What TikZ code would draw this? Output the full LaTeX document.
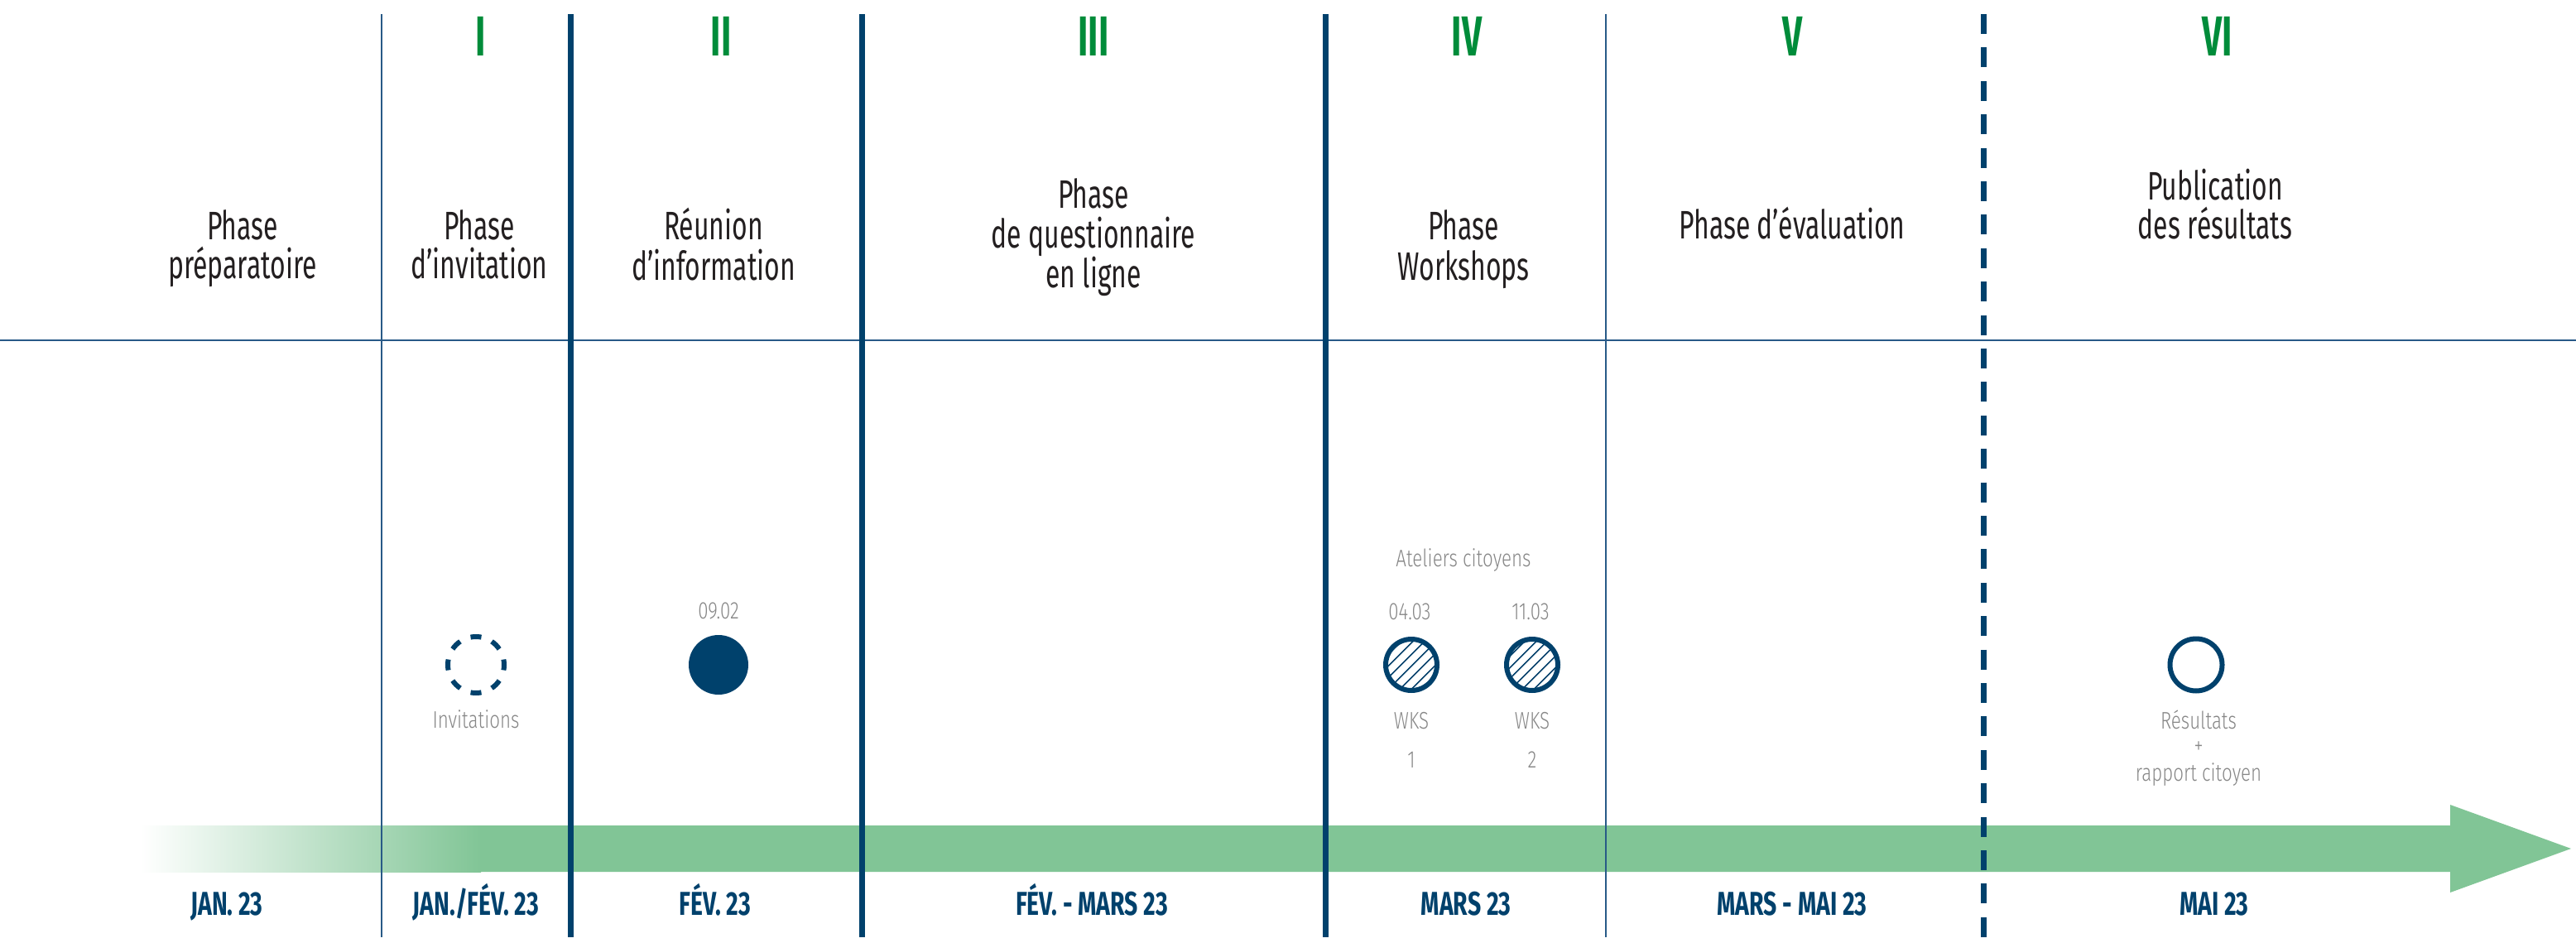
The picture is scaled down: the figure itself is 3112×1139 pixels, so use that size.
\documentclass[tikz,border=0pt]{standalone}
\usepackage{fontspec}
\setmainfont{Fira Sans}
\newfontfamily\headfont[FakeStretch=0.665]{Fira Sans}
\newfontfamily\romfont[FakeStretch=0.62]{Fira Sans}
\newfontfamily\datefont[FakeStretch=0.71]{Fira Sans}
\newfontfamily\lightfont[FakeStretch=0.77]{Fira Sans Light}
\usetikzlibrary{patterns.meta}
\definecolor{navy}{RGB}{0,65,108}
\definecolor{thinblue}{RGB}{40,90,135}
\definecolor{romgreen}{RGB}{0,140,58}
\definecolor{bargreen}{RGB}{129,197,150}
\definecolor{txt}{RGB}{35,31,32}
\definecolor{lab}{RGB}{135,135,135}
\tikzset{
  roman/.style={anchor=base, inner sep=0, text=romgreen, font=\romfont\bfseries\fontsize{68}{70}\selectfont},
  head/.style={anchor=base, inner sep=0, text=txt, font=\headfont\fontsize{48}{56}\selectfont},
  datelbl/.style={anchor=base, inner sep=0, text=navy, font=\datefont\bfseries\fontsize{40}{44}\selectfont},
  small/.style={anchor=base, inner sep=0, text=lab, font=\lightfont\fontsize{29}{32}\selectfont},
  thinline/.style={draw=thinblue, line width=2pt},
  thickline/.style={draw=navy, line width=7pt},
  dashline/.style={draw=navy, line width=7pt, dash pattern=on 24pt off 16.4pt},
  marker/.style={circle, inner sep=0, outer sep=0},
}
\begin{document}
\begin{tikzpicture}[x=1pt,y=-1pt]
\useasboundingbox (0,0) rectangle (3112,1139);
% timeline arrow
\fill[bargreen] (579,997) -- (2960,997) -- (2960,972) -- (3106,1025) -- (2960,1078) -- (2960,1053) -- (579,1053) -- cycle;
\shade[left color=white, right color=bargreen] (170,997) rectangle (581,1053);
% horizontal separator
\draw[thinblue, line width=2.5pt] (0,411) -- (3112,411);
% column separators
\coordinate (t1) at (461,17);  \coordinate (b1) at (461,1132);
\coordinate (t2) at (689,17);  \coordinate (b2) at (689,1132);
\coordinate (t3) at (1041,17); \coordinate (b3) at (1041,1132);
\coordinate (t4) at (1601,17); \coordinate (b4) at (1601,1132);
\coordinate (t5) at (1940,17); \coordinate (b5) at (1940,1132);
\coordinate (t6) at (2396,17); \coordinate (b6) at (2396,1132);
\draw[thinline] (t1) -- (b1);
\draw[thickline] (t2) -- (b2);
\draw[thickline] (t3) -- (b3);
\draw[thickline] (t4) -- (b4);
\draw[thinline] (t5) -- (b5);
\draw[dashline] (t6) -- (b6);
% roman numerals
\node[roman] (r1) at (581,68) {I};
\node[roman] (r2) at (871,68) {II};
\node[roman] (r3) at (1321,68) {III};
\node[roman] (r4) at (1772,68) {IV};
\node[roman] (r5) at (2165,68) {V};
\node[roman] (r6) at (2679,68) {VI};
% headers
\node[head] (h1a) at (293,290) {Phase};
\node[head] (h1b) at (293,337) {préparatoire};
\node[head] (h2a) at (579,290) {Phase};
\node[head] (h2b) at (579,337) {d’invitation};
\node[head] (h3a) at (862,290) {Réunion};
\node[head] (h3b) at (862,338) {d’information};
\node[head] (h4a) at (1321,252) {Phase};
\node[head] (h4b) at (1321,300) {de questionnaire};
\node[head] (h4c) at (1321,348) {en ligne};
\node[head] (h5a) at (1768,290) {Phase};
\node[head] (h5b) at (1768,338) {Workshops};
\node[head] (h6a) at (2165,289) {Phase d’évaluation};
\node[head] (h7a) at (2676,242) {Publication};
\node[head] (h7b) at (2676,289) {des résultats};
% markers
\node[marker, draw=navy, line width=6pt, minimum size=68pt, dash pattern=on 13pt off 13.7pt, dash phase=6.5pt] (inv) at (575,803) {};
\node[marker, fill=navy, minimum size=72pt] (info) at (868,803) {};
\node[marker, draw=navy, line width=6pt, minimum size=62pt, pattern={Lines[angle=45,distance=10.5pt,line width=2pt]}, pattern color=navy] (wk1) at (1705,803) {};
\node[marker, draw=navy, line width=6pt, minimum size=62pt, pattern={Lines[angle=45,distance=10.5pt,line width=2pt]}, pattern color=navy] (wk2) at (1851,803) {};
\node[marker, draw=navy, line width=6pt, minimum size=63pt] (res) at (2653,803) {};
% small labels
\node[small] (linv) at (575,879) {Invitations};
\node[small] (dinfo) at (868,747) {09.02};
\node[small] (lat) at (1768,684) {Ateliers citoyens};
\node[small] (d1) at (1703,748) {04.03};
\node[small] (d2) at (1849,748) {11.03};
\node[small] (w1) at (1705,880) {WKS};
\node[small] (w2) at (1851,880) {WKS};
\node[small] (n1) at (1705,927) {1};
\node[small] (n2) at (1851,927) {2};
\node[small] (lres) at (2656,880) {Résultats};
\node[small, anchor=center] (lplus) at (2656,903) {+};
\node[small] (lrap) at (2656,943) {rapport citoyen};
% dates
\node[datelbl] (m1) at (274,1105) {JAN. 23};
\node[datelbl] (m2) at (575,1105) {JAN./FÉV. 23};
\node[datelbl] (m3) at (864,1105) {FÉV. 23};
\node[datelbl] (m4) at (1319,1105) {FÉV. - MARS 23};
\node[datelbl] (m5) at (1771,1105) {MARS 23};
\node[datelbl] (m6) at (2165,1105) {MARS - MAI 23};
\node[datelbl] (m7) at (2675,1105) {MAI 23};
\end{tikzpicture}
\end{document}
